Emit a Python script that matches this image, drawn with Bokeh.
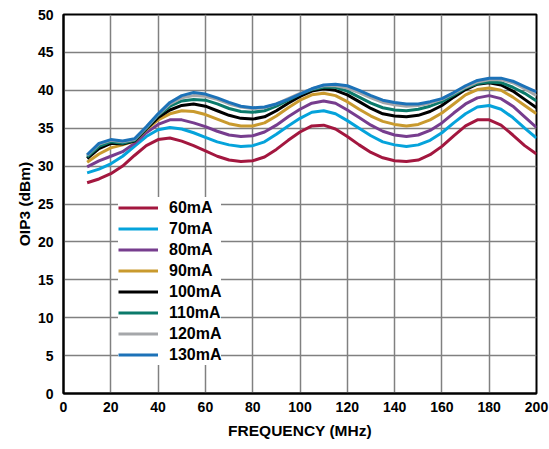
from bokeh.plotting import figure
from bokeh.models import Legend, LegendItem, FixedTicker, Range1d, Title
from bokeh.embed import file_html
from bokeh.resources import INLINE

freq_mhz = [10, 15, 20, 25, 30, 35, 40, 45, 50, 55, 60, 65, 70, 75, 80, 85, 90, 95, 100,
            105, 110, 115, 120, 125, 130, 135, 140, 145, 150, 155, 160, 165, 170, 175,
            180, 185, 190, 195, 200]

oip3_60ma = [27.8, 28.3, 29.0, 30.0, 31.4, 32.7, 33.5, 33.7, 33.3, 32.7, 32.0, 31.3, 30.8,
             30.6, 30.7, 31.2, 32.2, 33.4, 34.5, 35.3, 35.4, 34.9, 33.9, 32.8, 31.8, 31.1,
             30.7, 30.6, 30.8, 31.5, 32.6, 34.0, 35.3, 36.1, 36.1, 35.4, 34.1, 32.7, 31.6]
oip3_70ma = [29.1, 29.6, 30.3, 31.3, 32.6, 33.9, 34.8, 35.1, 34.9, 34.4, 33.8, 33.2, 32.8,
             32.6, 32.7, 33.2, 34.2, 35.3, 36.3, 37.1, 37.3, 36.9, 36.0, 35.0, 34.0, 33.2,
             32.8, 32.6, 32.8, 33.4, 34.4, 35.7, 36.9, 37.8, 38.0, 37.5, 36.4, 35.0, 33.7]
oip3_80ma = [29.9, 30.7, 31.3, 31.9, 33.0, 34.4, 35.5, 36.1, 36.1, 35.7, 35.2, 34.6, 34.1,
             33.9, 34.0, 34.5, 35.4, 36.5, 37.5, 38.3, 38.6, 38.3, 37.4, 36.4, 35.4, 34.6,
             34.1, 33.9, 34.1, 34.7, 35.7, 37.0, 38.2, 39.0, 39.3, 38.9, 37.9, 36.5, 35.1]
oip3_90ma = [30.5, 31.6, 32.4, 32.8, 33.3, 34.8, 36.1, 36.9, 37.3, 37.2, 36.8, 36.2, 35.6,
             35.3, 35.3, 35.7, 36.6, 37.7, 38.7, 39.4, 39.6, 39.3, 38.5, 37.5, 36.6, 35.9,
             35.5, 35.3, 35.5, 36.1, 37.0, 38.2, 39.4, 40.1, 40.3, 40.0, 39.1, 38.0, 36.9]
oip3_100ma = [31.0, 32.3, 33.0, 32.9, 33.3, 34.9, 36.4, 37.4, 38.0, 38.2, 37.9, 37.3, 36.7,
              36.3, 36.2, 36.5, 37.3, 38.3, 39.2, 39.9, 40.2, 40.0, 39.4, 38.5, 37.6, 36.9,
              36.6, 36.5, 36.7, 37.2, 38.0, 39.1, 40.1, 40.8, 41.0, 40.7, 39.9, 38.8, 37.7]
oip3_110ma = [31.2, 32.6, 33.2, 33.0, 33.4, 35.0, 36.7, 37.9, 38.6, 38.8, 38.7, 38.2, 37.6,
              37.2, 37.1, 37.3, 37.9, 38.7, 39.5, 40.1, 40.4, 40.4, 39.9, 39.1, 38.3, 37.7,
              37.4, 37.3, 37.5, 37.9, 38.5, 39.4, 40.3, 40.9, 41.1, 41.0, 40.4, 39.6, 38.6]
oip3_120ma = [31.4, 32.9, 33.4, 33.2, 33.5, 35.1, 36.8, 38.2, 39.0, 39.3, 39.2, 38.8, 38.2,
              37.8, 37.6, 37.7, 38.2, 38.9, 39.6, 40.2, 40.6, 40.6, 40.3, 39.7, 39.0, 38.4,
              38.1, 37.9, 38.0, 38.3, 38.8, 39.6, 40.4, 41.1, 41.4, 41.4, 41.0, 40.2, 39.3]
oip3_130ma = [31.5, 33.0, 33.5, 33.3, 33.6, 35.2, 36.9, 38.4, 39.3, 39.7, 39.5, 39.0, 38.4,
              37.9, 37.7, 37.8, 38.2, 38.8, 39.5, 40.2, 40.7, 40.8, 40.6, 40.0, 39.3, 38.7,
              38.4, 38.2, 38.2, 38.5, 38.9, 39.7, 40.6, 41.3, 41.6, 41.6, 41.2, 40.5, 39.8]

series_labels = ["60mA", "70mA", "80mA", "90mA", "100mA", "110mA", "120mA", "130mA"]
series_values = [oip3_60ma, oip3_70ma, oip3_80ma, oip3_90ma,
                 oip3_100ma, oip3_110ma, oip3_120ma, oip3_130ma]
series_colors = ["#A3173F", "#05A3DB", "#773D8E", "#C99A2E",
                 "#000000", "#0B7A6B", "#A5A7AA", "#1C72B8"]

x_ticks = [0, 20, 40, 60, 80, 100, 120, 140, 160, 180, 200]
y_ticks = [0, 5, 10, 15, 20, 25, 30, 35, 40, 45, 50]

FONT = "Liberation Sans"

p = figure(width=549, height=449, output_backend="svg", toolbar_location=None,
           x_range=Range1d(0, 200), y_range=Range1d(0, 50),
           min_border_left=63, min_border_right=13, min_border_top=14, min_border_bottom=56)

p.outline_line_color = "black"
p.outline_line_width = 2
p.background_fill_color = "white"
p.border_fill_color = "white"

for ax in (p.xaxis[0], p.yaxis[0]):
    ax.axis_line_color = "black"
    ax.axis_line_width = 2
    ax.major_tick_out = 0
    ax.major_tick_in = 0
    ax.minor_tick_out = 0
    ax.minor_tick_in = 0
    ax.major_label_text_font = FONT
    ax.major_label_text_font_style = "bold"
    ax.major_label_text_font_size = "14px"
    ax.major_label_text_color = "black"
    ax.axis_label_text_font = FONT
    ax.axis_label_text_font_style = "bold"
    ax.axis_label_text_font_size = "15.5px"
    ax.axis_label_text_color = "black"

p.xaxis[0].ticker = FixedTicker(ticks=x_ticks)
p.yaxis[0].ticker = FixedTicker(ticks=y_ticks)
p.xaxis[0].axis_label = "FREQUENCY (MHz)"
p.xaxis[0].major_label_standoff = 8
p.xaxis[0].axis_label_standoff = 7
p.yaxis[0].major_label_standoff = 10

ytitle = Title(text="OIP3 (dBm)", align="center", offset=21, standoff=4,
               text_font=FONT, text_font_style="bold", text_font_size="15.5px",
               text_color="black")
p.add_layout(ytitle, "left")

for g in (p.xgrid[0], p.ygrid[0]):
    g.grid_line_color = "#808080"
    g.grid_line_width = 1.5

items = []
for lab, vals, col in zip(series_labels, series_values, series_colors):
    r = p.line(freq_mhz, vals, line_color=col, line_width=3)
    items.append(LegendItem(label=lab, renderers=[r]))

legend = Legend(items=items, location=(55, 28), orientation="vertical",
                background_fill_color="white", background_fill_alpha=1.0,
                border_line_color=None, padding=9, spacing=0,
                glyph_width=40, glyph_height=21, label_height=21, label_standoff=11,
                label_text_font=FONT, label_text_font_style="bold",
                label_text_font_size="16px", label_text_color="black")
p.add_layout(legend, "center")

open("out.html", "w").write(file_html(p, INLINE))
